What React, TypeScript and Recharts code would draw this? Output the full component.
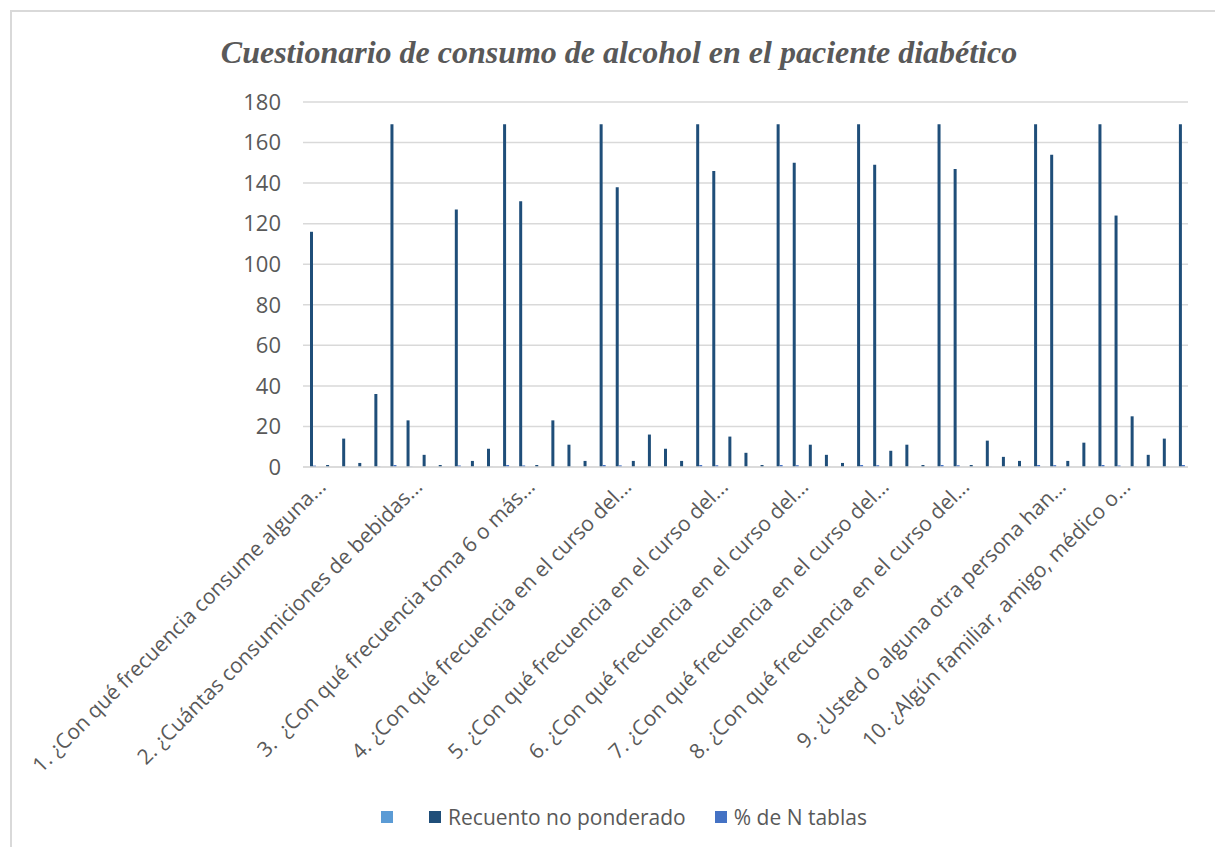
import { Bar, BarChart, CartesianGrid, Legend, XAxis, YAxis } from "recharts";

// Preguntas del AUDIT (texto recortado como en la hoja)
const preguntas = [
  "1. ¿Con qué frecuencia consume alguna...",
  "2. ¿Cuántas consumiciones de bebidas...",
  "3.  ¿Con qué frecuencia toma 6 o más...",
  "4. ¿Con qué frecuencia en el curso del...",
  "5. ¿Con qué frecuencia en el curso del...",
  "6. ¿Con qué frecuencia en el curso del...",
  "7. ¿Con qué frecuencia en el curso del...",
  "8. ¿Con qué frecuencia en el curso del...",
  "9. ¿Usted o alguna otra persona han...",
  "10. ¿Algún familiar, amigo, médico o...",
];

// filas de respuesta + total de cada pregunta
const filasPorPregunta = [6, 7, 6, 6, 5, 5, 5, 6, 4, 5];

const recuento = [
  116, 1, 14, 2, 36, 169,
  23, 6, 1, 127, 3, 9, 169,
  131, 1, 23, 11, 3, 169,
  138, 3, 16, 9, 3, 169,
  146, 15, 7, 1, 169,
  150, 11, 6, 2, 169,
  149, 8, 11, 1, 169,
  147, 1, 13, 5, 3, 169,
  154, 3, 12, 169,
  124, 25, 6, 14, 169,
];

const porcentaje = [
  0.686, 0.006, 0.083, 0.012, 0.213, 1,
  0.136, 0.036, 0.006, 0.751, 0.018, 0.053, 1,
  0.775, 0.006, 0.136, 0.065, 0.018, 1,
  0.817, 0.018, 0.095, 0.053, 0.018, 1,
  0.864, 0.089, 0.041, 0.006, 1,
  0.888, 0.065, 0.036, 0.012, 1,
  0.882, 0.047, 0.065, 0.006, 1,
  0.87, 0.006, 0.077, 0.03, 0.018, 1,
  0.911, 0.018, 0.071, 1,
  0.734, 0.148, 0.036, 0.083, 1,
];

const yTicks = [0, 20, 40, 60, 80, 100, 120, 140, 160, 180];

// orden de las series en la leyenda
const seriesOrder = ["blank", "recuento", "porcentaje"];

const categorias: string[] = [];
preguntas.forEach((p, i) => {
  for (let k = 0; k < filasPorPregunta[i]; k++) categorias.push(k === 0 ? p : "");
});

const data = categorias.map((categoria, i) => ({
  categoria,
  blank: null,
  recuento: recuento[i],
  porcentaje: porcentaje[i],
}));

const GRAY = "#595959";
const FONT = "'Open Sans', sans-serif";

function QuestionTick(props: any) {
  const { x, y, payload } = props;
  if (!payload.value) return null;
  const ax = x + 16;
  const ay = y + 21;
  return (
    <text
      x={ax}
      y={ay}
      transform={`rotate(-45, ${ax}, ${ay})`}
      textAnchor="end"
      fill={GRAY}
      fontSize={21}
      fontFamily={FONT}
      style={{ whiteSpace: "pre" }}
    >
      {payload.value}
    </text>
  );
}

function LegendRow({ payload }: any) {
  const items = [...(payload || [])].sort(
    (a: any, b: any) => seriesOrder.indexOf(a.dataKey) - seriesOrder.indexOf(b.dataKey)
  );
  return (
    <div
      style={{
        display: "flex",
        justifyContent: "center",
        alignItems: "center",
        height: 40,
        paddingLeft: 62,
        fontFamily: FONT,
        fontSize: 21,
        color: GRAY,
      }}
    >
      {items.map((item: any) => (
        <div key={item.dataKey} style={{ display: "flex", alignItems: "center", marginRight: 29 }}>
          <span style={{ width: 12, height: 12, background: item.color, marginRight: 7 }} />
          <span>{item.value.trim()}</span>
        </div>
      ))}
    </div>
  );
}

export default function App() {
  return (
    <div style={{ position: "absolute", left: 0, top: 0, width: 1215, height: 847, background: "#fff", overflow: "hidden" }}>
      <div
        style={{
          position: "absolute",
          left: 10,
          top: 10,
          width: 1215,
          height: 847,
          borderLeft: "2px solid #d9d9d9",
          borderTop: "2px solid #d9d9d9",
        }}
      />
      <div
        style={{
          position: "absolute",
          left: 19,
          top: 33,
          width: 1200,
          textAlign: "center",
          fontFamily: "'Liberation Serif', 'Times New Roman', serif",
          fontStyle: "italic",
          fontWeight: "bold",
          fontSize: 32,
          lineHeight: "38px",
          color: GRAY,
        }}
      >
        Cuestionario de consumo de alcohol en el paciente diabético
      </div>
      <div style={{ position: "absolute", left: 0, top: 0 }}>
        <BarChart
          width={1215}
          height={847}
          data={data}
          margin={{ top: 102, right: 27, bottom: 10, left: 0 }}
          barGap={0}
          barSize={3}
        >
          <CartesianGrid vertical={false} stroke="#d9d9d9" strokeWidth={1.5} />
          <XAxis
            dataKey="categoria"
            interval={0}
            height={330}
            tickLine={false}
            tickSize={0}
            tickMargin={0}
            axisLine={{ stroke: "#d9d9d9", strokeWidth: 1.5 }}
            tick={<QuestionTick />}
          />
          <YAxis
            width={303}
            domain={[0, 180]}
            ticks={yTicks}
            axisLine={false}
            tickLine={false}
            tickSize={0}
            tickMargin={22}
            tick={{ fill: GRAY, fontSize: 22, fontFamily: FONT }}
          />
          <Legend
            verticalAlign="bottom"
            height={40}
            wrapperStyle={{ left: 0, width: 1215, height: 40 }}
            content={<LegendRow />}
          />
          <Bar dataKey="blank" name=" " fill="#5B9BD5" isAnimationActive={false} />
          <Bar dataKey="recuento" name="Recuento no ponderado" fill="#1F4E79" isAnimationActive={false} />
          <Bar dataKey="porcentaje" name="% de N tablas" fill="#4472C4" isAnimationActive={false} />
        </BarChart>
      </div>
    </div>
  );
}
